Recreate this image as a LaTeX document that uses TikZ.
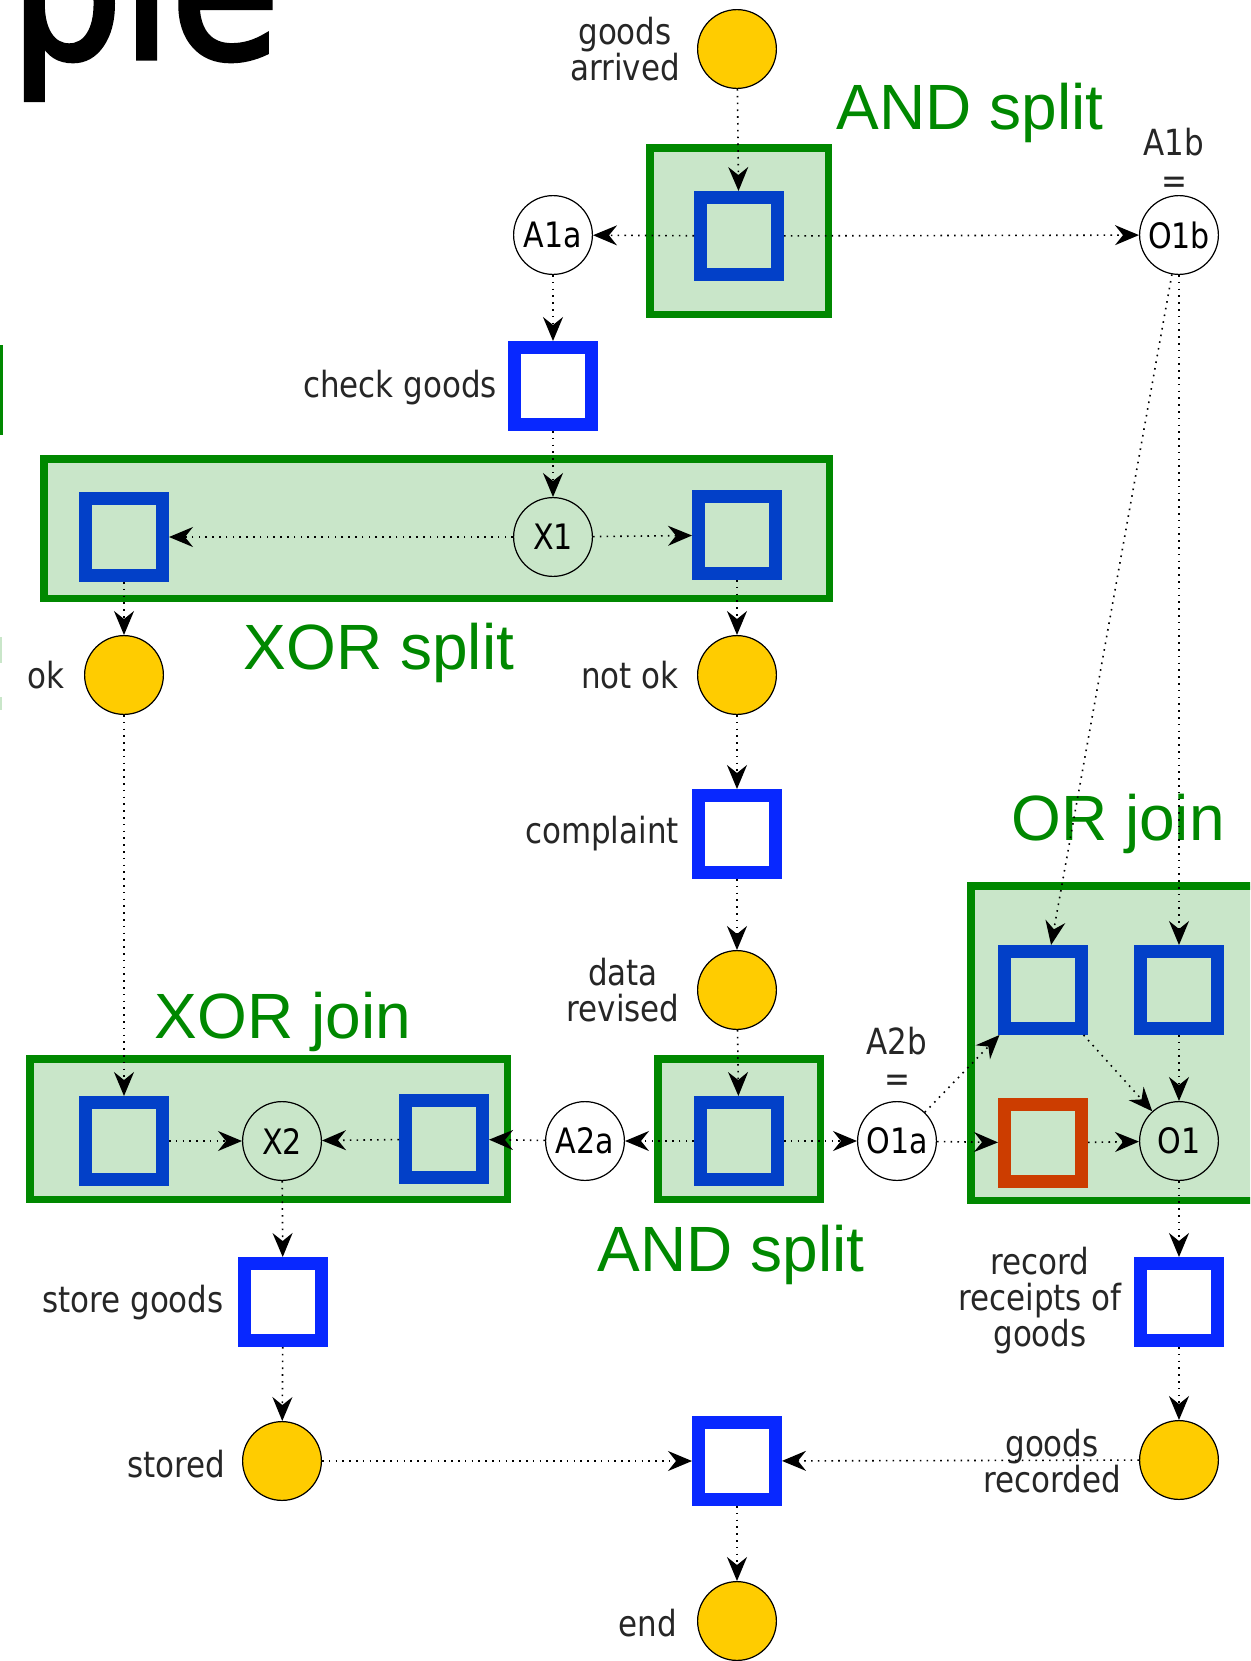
\documentclass[tikz,border=0pt]{standalone}
\usepackage{fontspec}
\setmainfont{DejaVu Sans}[FakeStretch=0.86]
\newfontfamily\bigfont{Liberation Sans}
\newfontfamily\titlefont{DejaVu Sans}[FakeBold=2.5, FakeStretch=0.88]
\usetikzlibrary{arrows.meta}
\definecolor{grn}{RGB}{0,136,0}
\definecolor{grnfill}{RGB}{201,230,201}
\definecolor{blu}{RGB}{8,40,255}
\definecolor{bludk}{RGB}{2,64,200}
\definecolor{redt}{RGB}{204,61,0}
\definecolor{yel}{RGB}{255,204,0}
\begin{document}
\begin{tikzpicture}[x=0.5pt,y=-0.5pt,
 grp/.style={draw=grn, fill=grnfill, line width=3.75pt, inner sep=0},
 task/.style={draw=blu, fill=white, line width=6.5pt, minimum size=38.5pt, inner sep=0},
 taskin/.style={task, draw=bludk, fill=grnfill},
 taskred/.style={taskin, draw=redt},
 cond/.style={circle, draw=black, fill=yel, line width=0.6pt, minimum size=39.4pt, inner sep=0},
 conn/.style={circle, draw=black, fill=white, line width=0.6pt, minimum size=39.4pt, inner sep=0, font=\fontsize{17.5}{18}\selectfont},
 connin/.style={conn, fill=grnfill},
 lbl/.style={font=\fontsize{18}{18}\selectfont, align=center, text=black!85, inner sep=0},
 big/.style={font=\bigfont\fontsize{32}{34}\selectfont, text=grn, anchor=base, inner sep=0},
 flow/.style={draw=black, line width=0.8pt, dash pattern=on 0.8pt off 2.6pt, -{Stealth[length=12pt,width=10pt,inset=4pt]}},
]
\useasboundingbox (0,0) rectangle (1250,1661);
\fill[white] (0,0) rectangle (1250,1661);
\clip (0,0) rectangle (1250,1661);

% title fragment and left-edge fragments
\node[anchor=base west, inner sep=0, font=\titlefont\fontsize{100}{100}\selectfont] (title) at (10,58) {ple};
\fill[grn] (0,345) rectangle (3,435);
\fill[grnfill] (0,637) rectangle (2,663);
\fill[grnfill] (0,697) rectangle (2,710);

% group boxes
\node[grp, minimum width=89.25pt, minimum height=83.25pt] (gand1) at (739,231) {};
\node[grp, minimum width=392.75pt, minimum height=69.75pt] (gxs) at (436.5,528.5) {};
\node[grp, minimum width=81.25pt, minimum height=70.25pt] (gand2) at (739,1129) {};
\node[grp, minimum width=238.75pt, minimum height=70.25pt] (gxj) at (268.5,1129) {};
\node[grp, minimum width=147.75pt, minimum height=157.25pt] (gor) at (1118.5,1043) {};

% big labels
\node[big] (lAND1) at (970,129) {AND split};
\node[big] (lXS) at (379,669) {XOR split};
\node[big] (lOR) at (1118,840) {OR join};
\node[big] (lXJ) at (283,1038) {XOR join};
\node[big] (lAND2) at (731,1271) {AND split};

% nodes
\node[cond] (ga) at (737,49) {};
\node[taskin] (t1) at (739,236) {};
\node[conn] (a1a) at (553,235) {A1a};
\node[conn] (o1b) at (1179,235) {O1b};
\node[task] (tcheck) at (553,386) {};
\node[taskin] (txl) at (124,537) {};
\node[connin] (x1) at (553,537) {X1};
\node[taskin] (txr) at (737,535) {};
\node[cond] (ok) at (124,675) {};
\node[cond] (notok) at (737,675) {};
\node[task] (tcompl) at (737,834) {};
\node[cond] (drev) at (737,990) {};
\node[taskin] (ortl) at (1043,990) {};
\node[taskin] (ortr) at (1179,990) {};
\node[taskin] (tjl) at (124,1141) {};
\node[connin] (x2) at (282,1141) {X2};
\node[taskin] (tjr) at (444,1139) {};
\node[conn] (a2a) at (585,1141) {A2a};
\node[taskin] (t2) at (739,1141) {};
\node[conn] (o1a) at (897,1141) {O1a};
\node[taskred] (orred) at (1043,1143) {};
\node[connin] (o1) at (1179,1141) {O1};
\node[task] (tstore) at (283,1302) {};
\node[task] (trec) at (1179,1302) {};
\node[cond] (stored) at (282,1461) {};
\node[task] (tend) at (737,1461) {};
\node[cond] (grec) at (1179,1460) {};
\node[cond] (endc) at (737,1621) {};

% small labels
\node[lbl] (lga) at (625,49) {goods\\arrived};
\node[lbl, anchor=base] (la1b) at (1174,155) {A1b};
\node[lbl, anchor=base] (la1beq) at (1174,193) {=};
\node[lbl] (lcheck) at (400,388) {check goods};
\node[lbl] (lok) at (46,675) {ok};
\node[lbl] (lnotok) at (630,675) {not ok};
\node[lbl] (lcompl) at (602,834) {complaint};
\node[lbl] (ldrev) at (623,990) {data\\revised};
\node[lbl, anchor=base] (la2b) at (897,1054) {A2b};
\node[lbl, anchor=base] (la2beq) at (897,1091) {=};
\node[lbl] (lstore) at (133,1303) {store goods};
\node[lbl] (lrec) at (1040,1301) {record\\receipts of\\goods};
\node[lbl] (lstored) at (176,1464) {stored};
\node[lbl] (lgrec) at (1052,1461) {goods\\recorded};
\node[lbl] (lend) at (648,1623) {end};

% flows
\draw[flow] (ga) -- (t1);
\draw[flow] (t1) -- (a1a);
\draw[flow] (t1) -- (o1b);
\draw[flow] (a1a) -- (tcheck);
\draw[flow] (tcheck) -- (x1);
\draw[flow] (x1) -- (txl);
\draw[flow] (x1) -- (txr);
\draw[flow] (txl) -- (ok);
\draw[flow] (txr) -- (notok);
\draw[flow] (ok) -- (tjl);
\draw[flow] (notok) -- (tcompl);
\draw[flow] (tcompl) -- (drev);
\draw[flow] (drev) -- (t2);
\draw[flow] (t2) -- (a2a);
\draw[flow] (t2) -- (o1a);
\draw[flow] (a2a) -- (tjr);
\draw[flow] (tjl) -- (x2);
\draw[flow] (tjr) -- (x2);
\draw[flow] (x2) -- (tstore);
\draw[flow] (tstore) -- (stored);
\draw[flow] (stored) -- (tend);
\draw[flow] (grec) -- (tend);
\draw[flow] (tend) -- (endc);
\draw[flow] (o1b) -- (ortl);
\draw[flow] (o1b) -- (ortr);
\draw[flow] (o1a) -- (orred);
\draw[flow] (o1a) -- (ortl);
\draw[flow] (ortl) -- (o1);
\draw[flow] (ortr) -- (o1);
\draw[flow] (orred) -- (o1);
\draw[flow] (o1) -- (trec);
\draw[flow] (trec) -- (grec);
\end{tikzpicture}
\end{document}
